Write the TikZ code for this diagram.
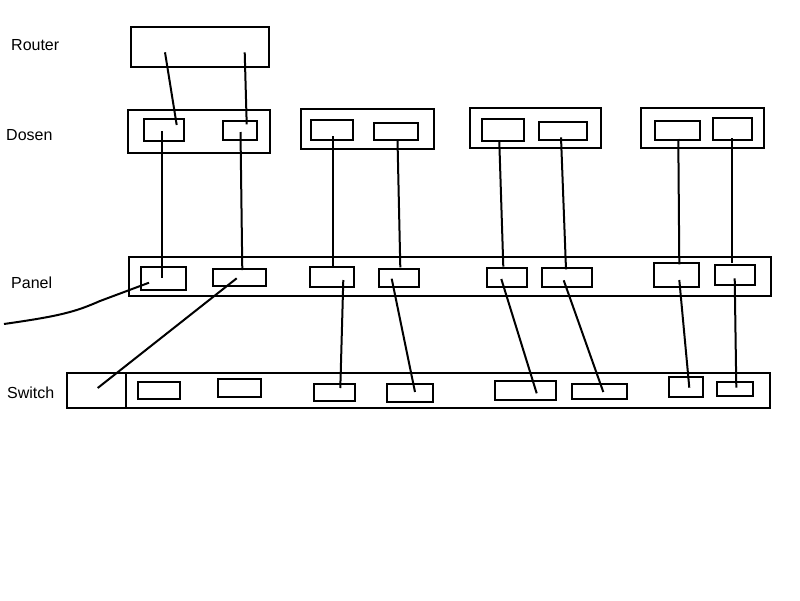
\documentclass[tikz,border=0pt]{standalone}
\usepackage{fontspec}
\setmainfont{Liberation Sans}
\begin{document}
\begin{tikzpicture}[x=1pt,y=-1pt,
  box/.style={draw=black,line width=2pt,inner sep=0pt,outer sep=0pt},
  wire/.style={draw=black,line width=2pt},
  lbl/.style={anchor=west,inner sep=0pt,font=\fontsize{16}{19}\selectfont}]
\useasboundingbox[fill=white] (0,0) rectangle (800,600);
\newcommand\bx[5]{\node[box,minimum width={(#4-#2)*1pt},minimum height={(#5-#3)*1pt}] (#1) at ({(#2+#4)/2},{(#3+#5)/2}) {};}
% labels
\node[lbl] (lRouter) at (11,45) {Router};
\node[lbl] (lDosen) at (6,135) {Dosen};
\node[lbl] (lPanel) at (11,283) {Panel};
\node[lbl] (lSwitch) at (7,393) {Switch};
% router
\bx{router}{131}{27}{269}{67}
% dosen
\bx{dose1}{128}{110}{270}{153}
\bx{d1a}{144}{119}{184}{141}
\bx{d1b}{223}{121}{257}{140}
\bx{dose2}{301}{109}{434}{149}
\bx{d2a}{311}{120}{353}{140}
\bx{d2b}{374}{123}{418}{140}
\bx{dose3}{469.5}{107.5}{601}{148}
\bx{d3a}{481.7}{118.7}{524}{141}
\bx{d3b}{538.7}{122}{587}{139.7}
\bx{dose4}{640.7}{107.5}{764}{148}
\bx{d4a}{654.7}{120.7}{700}{140}
\bx{d4b}{712.7}{117.7}{752}{140}
% panel
\bx{panel}{129}{257}{771}{296}
\bx{p1}{141}{266.7}{185.7}{290}
\bx{p2}{212.7}{269}{266}{285.7}
\bx{p3}{309.7}{267.3}{354}{287}
\bx{p4}{378.7}{269}{419}{287}
\bx{p5}{486.7}{267.7}{527.3}{287}
\bx{p6}{541.7}{267.7}{592}{287}
\bx{p7}{653.7}{262.7}{699}{287}
\bx{p8}{715}{264.7}{755}{284.7}
% switch
\bx{switch}{67}{373}{770}{408}
\coordinate (swt) at (125.7,373);
\coordinate (swb) at (125.7,408);
\draw[wire] (swt) -- (swb);
\bx{s1}{138.3}{381.7}{180}{399}
\bx{s2}{217.7}{379.3}{261.3}{397}
\bx{s3}{313.7}{383.7}{355.3}{400.7}
\bx{s4}{387.3}{383.7}{433.3}{401.7}
\bx{s5}{494.7}{380.7}{556}{400}
\bx{s6}{571.7}{383.7}{626.7}{399.3}
\bx{s7}{668.7}{377.3}{703}{396.7}
\bx{s8}{716.7}{381.7}{753.3}{395.7}
% router -> dosen
\coordinate (ra) at (165,52.3); \coordinate (rb) at (244.7,52.3);
\coordinate (da) at (176.7,125); \coordinate (db) at (246.7,124.3);
\draw[wire] (ra) -- (da);
\draw[wire] (rb) -- (db);
% dosen -> panel
\coordinate (u1) at (161.7,131); \coordinate (v1) at (161.7,278);
\coordinate (u2) at (240.5,132); \coordinate (v2) at (242.3,270);
\coordinate (u3) at (333,136); \coordinate (v3) at (333,266.7);
\coordinate (u4) at (397.5,140); \coordinate (v4) at (400.3,267.3);
\coordinate (u5) at (499.3,141.7); \coordinate (v5) at (503.3,266.7);
\coordinate (u6) at (561,137.3); \coordinate (v6) at (566,269.3);
\coordinate (u7) at (678.3,139); \coordinate (v7) at (679.3,264.3);
\coordinate (u8) at (732.3,138.3); \coordinate (v8) at (732.3,263.3);
\foreach \i in {1,...,8}{\draw[wire] (u\i) -- (v\i);}
% panel -> switch
\coordinate (ext) at (4,324); \coordinate (pe) at (149,282.7);
\draw[wire] (ext) .. controls (60,316) and (75,312) .. (100,301) -- (pe);
\coordinate (a2) at (236.7,278.3); \coordinate (b2) at (97.7,388);
\coordinate (a3) at (343.3,280); \coordinate (b3) at (340.3,388);
\coordinate (a4) at (391.7,278.7); \coordinate (b4) at (415,392);
\coordinate (a5) at (501.3,279); \coordinate (b5) at (536.7,393.3);
\coordinate (a6) at (563.7,280.3); \coordinate (b6) at (603.3,392);
\coordinate (a7) at (679.3,280); \coordinate (b7) at (689.3,387.7);
\coordinate (a8) at (734.7,278.3); \coordinate (b8) at (736.3,387.7);
\foreach \i in {2,...,8}{\draw[wire] (a\i) -- (b\i);}
\end{tikzpicture}
\end{document}
